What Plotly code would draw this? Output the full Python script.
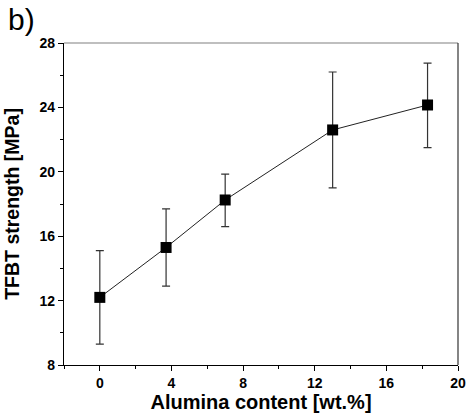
import plotly.graph_objects as go

alumina = [0, 3.7, 7.0, 13.0, 18.3]
strength = [12.2, 15.3, 18.25, 22.6, 24.15]
err_plus = [2.9, 2.4, 1.6, 3.6, 2.6]
err_minus = [2.9, 2.4, 1.65, 3.6, 2.65]

x_ticks = [0, 4, 8, 12, 16, 20]
y_ticks = [8, 12, 16, 20, 24, 28]

font_family = "Liberation Sans, Arial, sans-serif"

fig = go.Figure()
fig.add_trace(go.Scatter(
    x=alumina, y=strength,
    mode="lines+markers",
    line=dict(color="#222222", width=1),
    marker=dict(symbol="square", size=11, color="black"),
    error_y=dict(type="data", symmetric=False, array=err_plus, arrayminus=err_minus,
                 color="#333333", thickness=1.2, width=4),
    showlegend=False,
))

axis_common = dict(
    showgrid=False, zeroline=False, showline=True, linecolor="black", linewidth=1.2,
    ticks="outside", ticklen=5, tickwidth=1, tickcolor="black", automargin=False,
    tickfont=dict(family=font_family, size=14, color="black", weight="bold"),
)

fig.update_layout(
    width=467, height=417,
    margin=dict(l=64, r=9, t=43, b=52),
    paper_bgcolor="white", plot_bgcolor="white",
    font=dict(family=font_family, color="black"),
    xaxis=dict(
        range=[-2, 20], tickvals=x_ticks,
        minor=dict(ticks="outside", ticklen=3, tickcolor="black", dtick=2, tick0=0),
        title=dict(text="Alumina content [wt.%]", standoff=1,
                   font=dict(family=font_family, size=20, color="black", weight="bold")),
        **axis_common,
    ),
    yaxis=dict(
        range=[8, 28], tickvals=y_ticks,
        minor=dict(ticks="outside", ticklen=3, tickcolor="black", dtick=2, tick0=0),
        title=dict(text="TFBT strength [MPa]", standoff=14,
                   font=dict(family=font_family, size=19.5, color="black", weight="bold")),
        **axis_common,
    ),
    shapes=[
        dict(type="line", xref="paper", yref="paper", x0=0, x1=1, y0=1, y1=1,
             line=dict(color="#808080", width=1.2)),
        dict(type="line", xref="paper", yref="paper", x0=1, x1=1, y0=0, y1=1,
             line=dict(color="#333333", width=1.2)),
    ],
    annotations=[
        dict(text="b)", xref="paper", yref="paper", x=-0.148, y=1.13,
             xanchor="left", yanchor="top", showarrow=False,
             font=dict(family=font_family, size=30, color="black")),
    ],
)

fig.write_html(
    "out.html",
    config={"displayModeBar": False},
    post_script="document.body.style.margin='0';document.body.style.overflow='hidden';",
)
